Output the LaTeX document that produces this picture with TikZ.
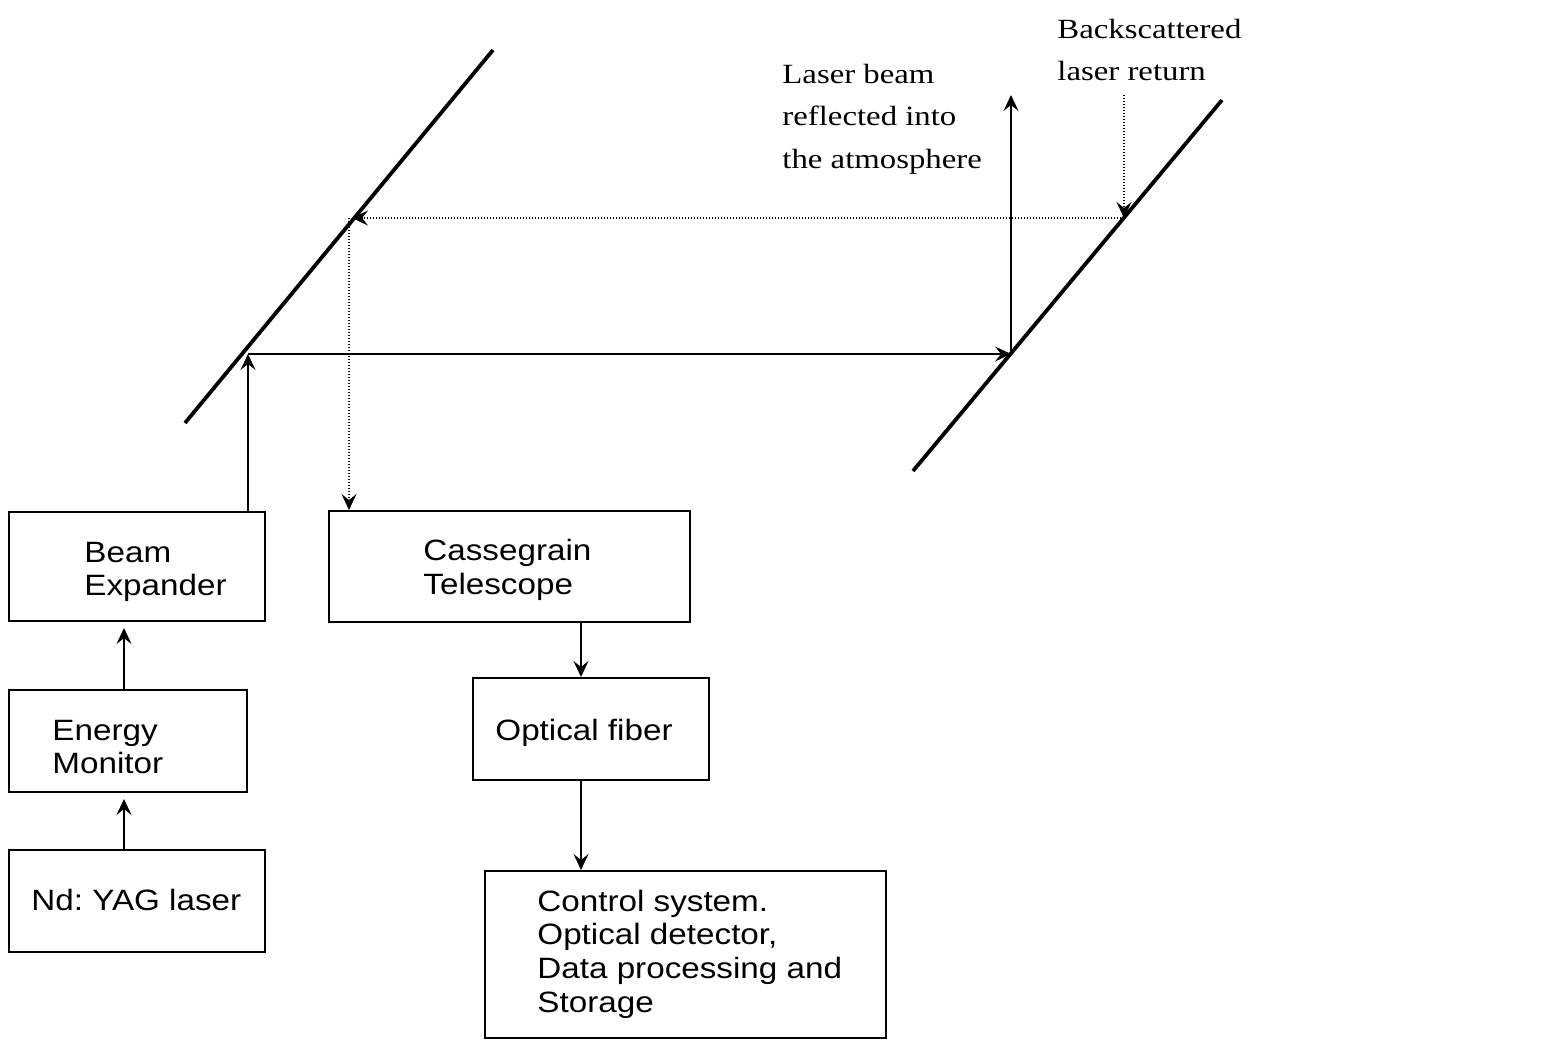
\documentclass[tikz,border=0pt]{standalone}
\usepackage{fontspec}
\setmainfont{Liberation Serif}[FakeStretch=1.18]
\setsansfont{Liberation Sans}[FakeStretch=1.13]
\usetikzlibrary{arrows.meta,fit}
\frenchspacing
\begin{document}
\begin{tikzpicture}[x=0.5pt,y=-0.5pt,
  box/.style={draw, line width=1pt, inner sep=0pt},
  sanstxt/.style={font=\sffamily\fontsize{14.7}{16.8}\selectfont, align=left, inner sep=0pt, anchor=west},
  seriftxt/.style={font=\rmfamily\fontsize{13.9}{21.2}\selectfont, align=left, inner sep=0pt, anchor=west},
  mirror/.style={line width=1.9pt},
  arr/.style={line width=0.7pt, -{Stealth[length=8pt,width=7.5pt,inset=3pt]}},
  dotarr/.style={line width=0.6pt, dash pattern=on 0.7pt off 0.8pt, -{Stealth[length=8pt,width=7.5pt,inset=3pt]}}]
\useasboundingbox (0,0) rectangle (1560,1040);

% boxes
\node[box, fit={(9,512) (265,621)}] (be) {};
\node[box, fit={(9,690) (247,792)}] (em) {};
\node[box, fit={(9,850) (265,952)}] (nd) {};
\node[box, fit={(329,511) (690,622)}] (ts) {};
\node[box, fit={(473,678) (709,780)}] (fb) {};
\node[box, fit={(485,871) (886,1038)}] (cs) {};

% box texts
\node[sanstxt] (bet) at (84,572) {Beam\\Expander};
\node[sanstxt] (emt) at (52,747) {Energy\\Monitor};
\node[sanstxt] (ndt) at (31,900) {Nd: YAG laser};
\node[sanstxt] (tst) at (423,570) {Cassegrain\\Telescope};
\node[sanstxt] (fbt) at (495,733) {Optical fiber};
\node[sanstxt] (cst) at (537,954) {Control system.\\Optical detector,\\Data processing and\\Storage};

% labels
\node[seriftxt] (lab1) at (782,119) {Laser beam\\reflected into\\the atmosphere};
\node[seriftxt] (lab2) at (1057,50) {Backscattered\\laser return};

% mirrors
\coordinate (m1a) at (185,423);
\coordinate (m1b) at (493,50);
\coordinate (m2a) at (913,471);
\coordinate (m2b) at (1222,100);
\draw[mirror] (m1a) -- (m1b);
\draw[mirror] (m2a) -- (m2b);

% beam points
\coordinate (p1) at (248,354);
\coordinate (p2) at (1011,354);
\coordinate (up) at (1011,95);
\coordinate (rt) at (1124,95);
\coordinate (r2) at (1124,218);
\coordinate (r1) at (352,218);
\coordinate (dn) at (349,218);
\coordinate (fx) at (581,0);

% outgoing beam
\draw[arr] (be.north -| p1) -- (p1);
\draw[arr] (p1) -- (p2);
\draw[arr] (p2) -- (up);

% return beam
\draw[dotarr] (rt) -- (r2);
\draw[dotarr] (r2) -- (r1);
\draw[dotarr] (dn) -- (dn |- ts.north);

% chain arrows
\draw[arr, shorten >=3pt] (nd.north -| 124,0) -- (em.south -| 124,0);
\draw[arr, shorten >=3pt] (em.north -| 124,0) -- (be.south -| 124,0);
\draw[arr] (ts.south -| fx) -- (fb.north -| fx);
\draw[arr] (fb.south -| fx) -- (cs.north -| fx);
\end{tikzpicture}
\end{document}
